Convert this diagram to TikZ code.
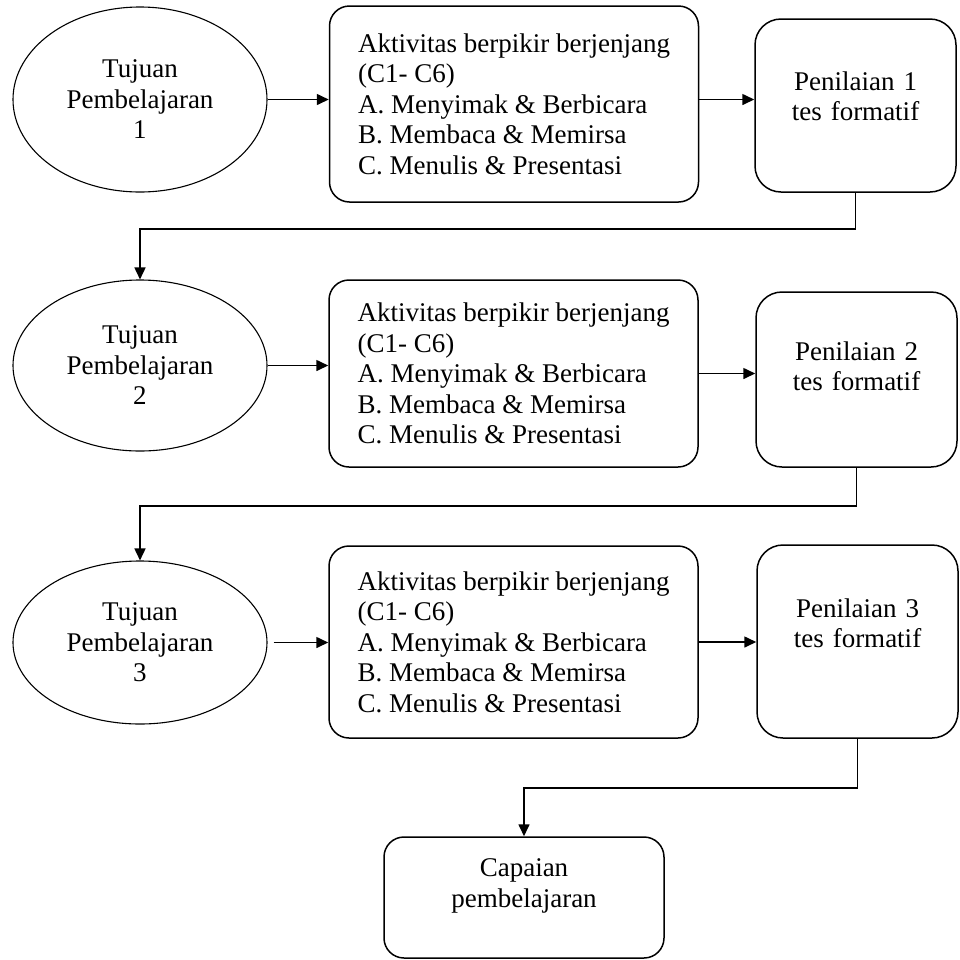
\documentclass[tikz,border=0pt]{standalone}
\usepackage{fontspec}
\setmainfont{Liberation Serif}
\usetikzlibrary{shapes.geometric,arrows.meta}

\begin{document}
\begin{tikzpicture}[x=0.5pt,y=-0.5pt,
	font=\fontsize{13.5}{15.25}\selectfont,
	tujuan/.style={shape=ellipse,draw=black,line width=0.55pt,minimum width=127pt,inner sep=0pt,align=center},
	aktivitas/.style={shape=rectangle,draw=black,line width=0.75pt,rounded corners=10pt,minimum width=184.5pt,align=left},
	penilaian/.style={shape=rectangle,draw=black,line width=0.75pt,rounded corners=13pt,minimum width=100.5pt,text width=90pt,align=center},
	flow/.style={-{Triangle[length=6pt,width=5.5pt]},line width=0.8pt}]
	
	\useasboundingbox (0,0) rectangle (960,960);
	
	\node[tujuan,minimum height=92.5pt] (tp1) at (140, 99.5)    {Tujuan\\Pembelajaran\\1};
	\node[tujuan,minimum height=85.5pt] (tp2) at (140, 365.5)   {Tujuan\\Pembelajaran\\2};
	\node[tujuan,minimum height=81.5pt] (tp3) at (140, 642.5)   {Tujuan\\Pembelajaran\\3};
	\node[aktivitas,minimum height=98pt]   (akt1) at (514, 104)   {Aktivitas berpikir berjenjang\\(C1- C6)\\A. Menyimak \& Berbicara\\B. Membaca \& Memirsa\\C. Menulis \& Presentasi};
	\node[aktivitas,minimum height=93.5pt] (akt2) at (513.5, 373.5) {Aktivitas berpikir berjenjang\\(C1- C6)\\A. Menyimak \& Berbicara\\B. Membaca \& Memirsa\\C. Menulis \& Presentasi};
	\node[aktivitas,minimum height=96pt]   (akt3) at (513.5, 642) {Aktivitas berpikir berjenjang\\(C1- C6)\\A. Menyimak \& Berbicara\\B. Membaca \& Memirsa\\C. Menulis \& Presentasi};
	\node[penilaian,minimum height=86.5pt,text depth=24.7pt] (pen1) at (855.5, 105.5) {Penilaian 1\\tes formatif};
	\node[penilaian,minimum height=87.5pt,text depth=28.7pt] (pen2) at (856.5, 379.5) {Penilaian 2\\tes formatif};
	\node[penilaian,minimum height=96.5pt,text depth=33.7pt] (pen3) at (857.5, 641.5) {Penilaian 3\\tes formatif};
	\node[penilaian,rounded corners=10pt,minimum width=140pt,text width=120pt,minimum height=60.5pt,text depth=29.7pt] (cap) at (524, 897.5) {Capaian\\pembelajaran};
	
	\path[flow] (tp1.east) edge (tp1.east -| akt1.west);
	\path[flow] (akt1.east |- tp1.east) edge (tp1.east -| pen1.west);
	\path[flow] (tp2.east) edge (tp2.east -| akt2.west);
	\path[flow] (akt2.east) edge (akt2.east -| pen2.west);
	\path[flow,shorten <=3pt] (tp3.east) edge (tp3.east -| akt3.west);
	\path[flow] (akt3.east) edge (akt3.east -| pen3.west);
	
	\draw[flow] (pen1.south) -- ++(0,36) -| (tp2.north);
	\draw[flow] (pen2.south) -- ++(0,38) -| (tp3.north);
	\draw[flow] (pen3.south) -- ++(0,49) -| (cap.north);
\end{tikzpicture}
\end{document}
